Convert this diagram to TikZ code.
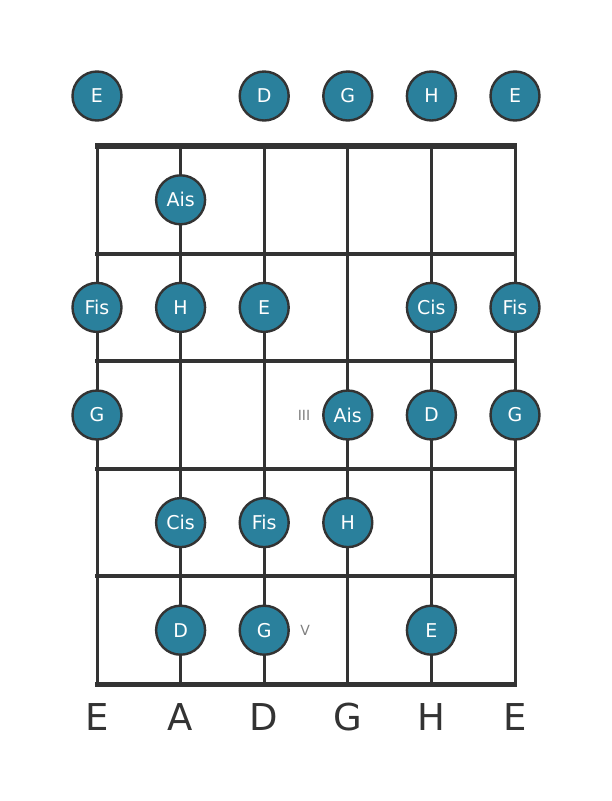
\documentclass[tikz,border=0pt]{standalone}
\usepackage{fontspec}
\setmainfont{DejaVu Sans}
\usepackage{tikz}
\usetikzlibrary{calc,positioning}

\definecolor{dotfill}{RGB}{42,128,156}
\definecolor{gridline}{RGB}{51,51,51}

\begin{document}
\begin{tikzpicture}[x=1pt, y=-1pt,
    note/.style={circle, draw=gridline, line width=2.4pt, fill=dotfill,
      minimum size=49pt, inner sep=0pt, text=white, font=\fontsize{19}{19}\selectfont},
    stringname/.style={text=gridline, font=\fontsize{37}{37}\selectfont},
    fingering/.style={text=gray, font=\fontsize{14}{14}\selectfont}]
  \useasboundingbox (0,0) rectangle (611,801);

  % strings and frets
  \foreach \s in {0,...,5} {
    \coordinate (top\s) at ({97+\s*83.6},146);
    \coordinate (bot\s) at ({97+\s*83.6},684);
    \draw[gridline, line width=3pt] (top\s) -- (bot\s);
  }
  \foreach \f in {1,...,4}
    \draw[gridline, line width=4pt] (95,{146+\f*107.6}) -- (517,{146+\f*107.6});
  \draw[gridline, line width=5pt] (95,684) -- (517,684);
  \draw[gridline, line width=6pt] (95,146) -- (517,146);

  % string names
  \foreach \n [count=\s from 0] in {E,A,D,G,H,E}
    \node[stringname] (name\s) at ($(bot\s)+(0,33)$) {\n};

  % open strings
  \foreach \s/\n in {0/E,2/D,3/G,4/H,5/E}
    \node[note] (open\s) at ($(top\s)+(0,-50)$) {\n};

  % fretted notes
  \foreach \f/\s/\n in {1/1/Ais,
      2/0/Fis,2/1/H,2/2/E,2/4/Cis,2/5/Fis,
      3/0/G,3/3/Ais,3/4/D,3/5/G,
      4/1/Cis,4/2/Fis,4/3/H,
      5/1/D,5/2/G,5/4/E}
    \node[note] (n\f\s) at ($(top\s)+(0,{(\f-0.5)*107.6})$) {\n};

  % position marks
  \node[fingering] (posIII) at ($(n33)!0.5!(n33-|n52)+(-2,0)$) {III};
  \node[fingering] (posV) at ($(n52)+(41,0)$) {V};
\end{tikzpicture}
\end{document}
